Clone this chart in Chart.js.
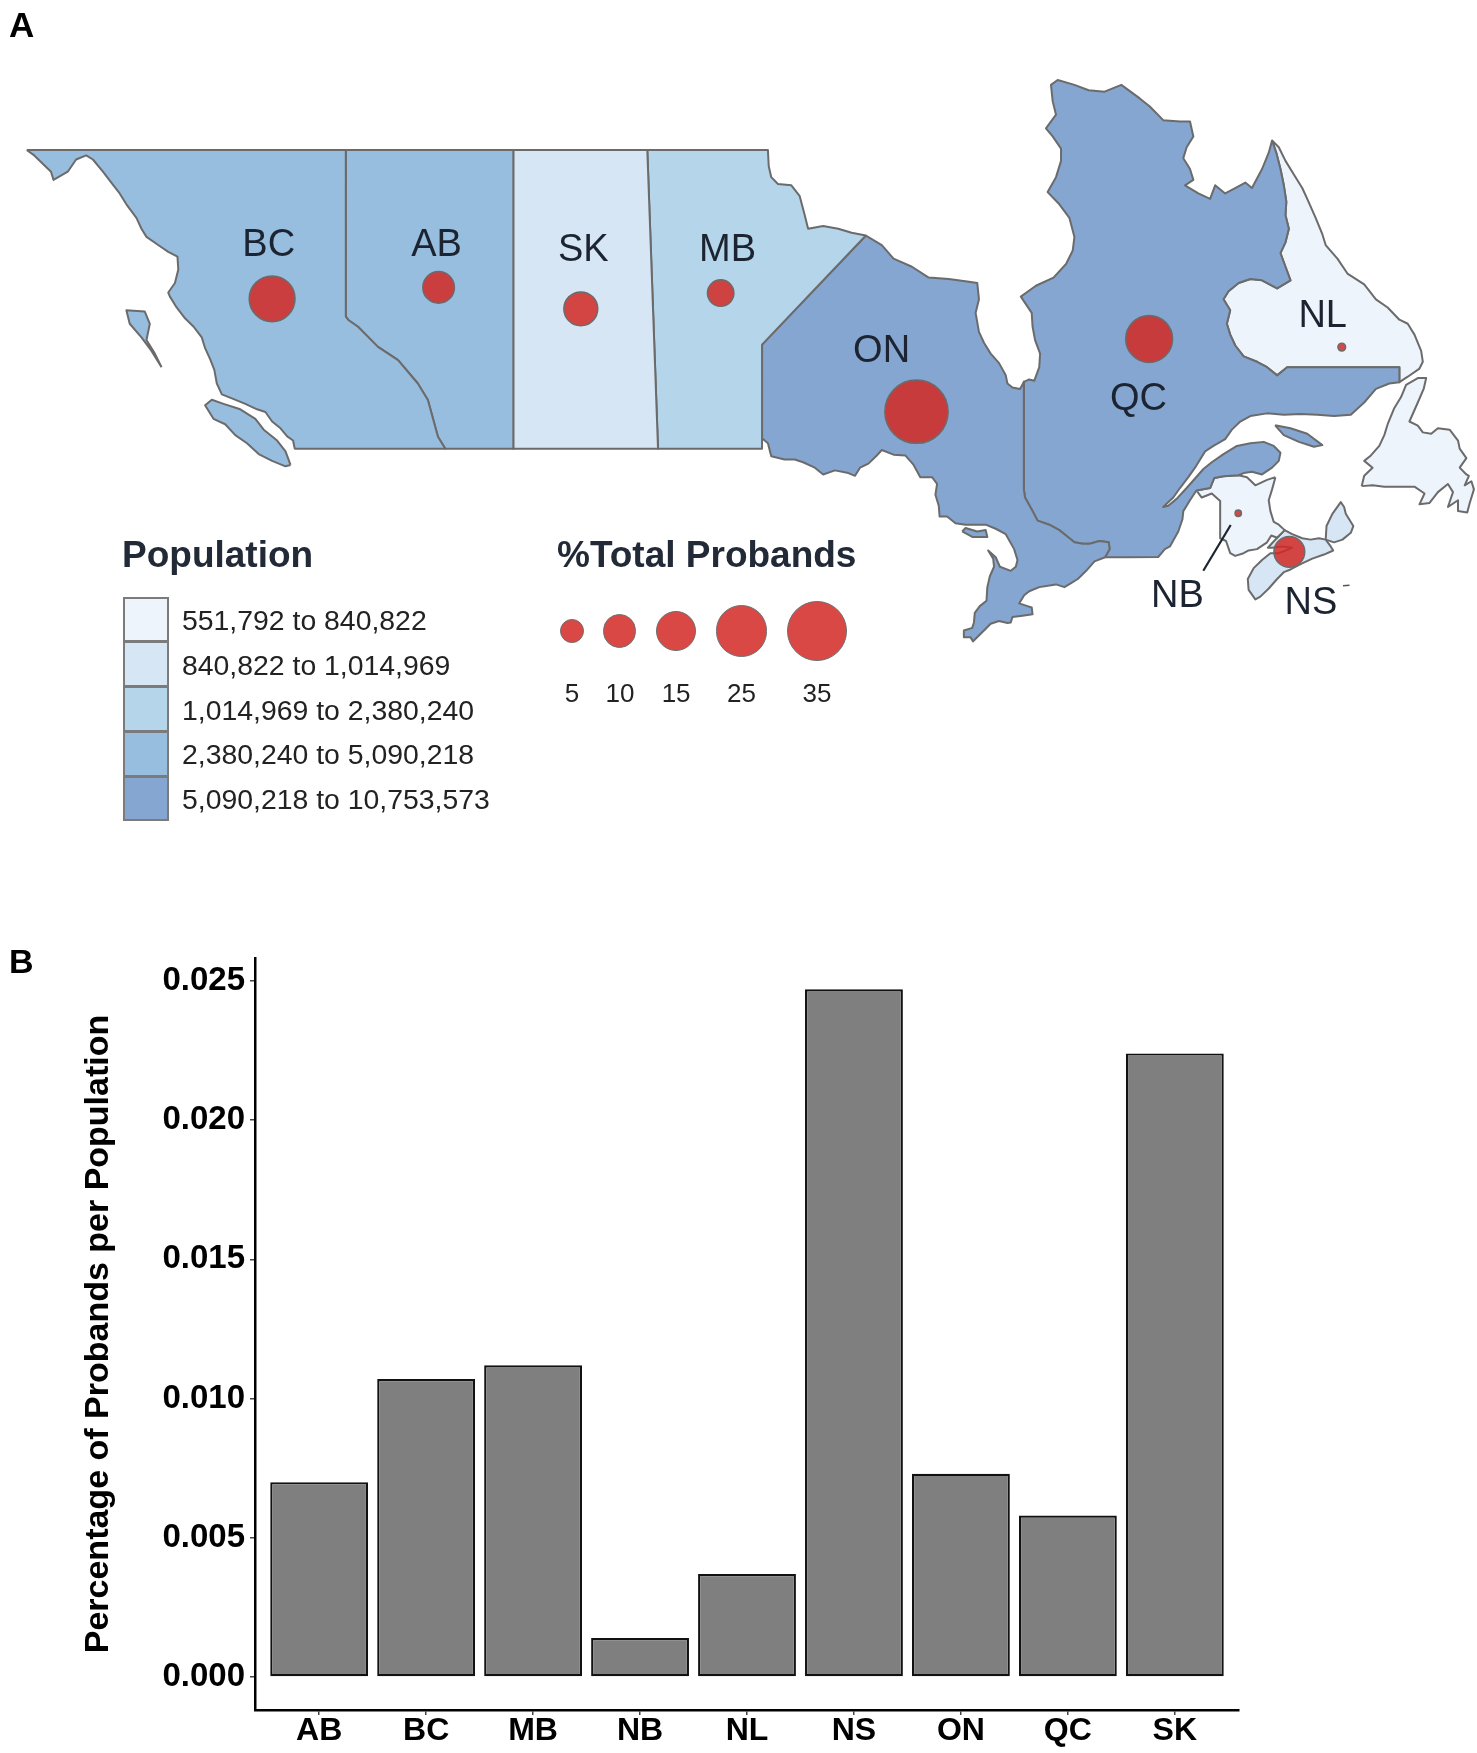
<!DOCTYPE html>
<html>
<head>
<meta charset="utf-8">
<script src="https://cdn.jsdelivr.net/npm/chart.js@4.4.1/dist/chart.umd.min.js"></script>
<style>
  html, body { margin: 0; padding: 0; background: #ffffff; }
  body { width: 1477px; height: 1753px; position: relative; overflow: hidden;
         font-family: 'Liberation Sans', Arial, Helvetica, sans-serif; }
  #mapCanvas { position: absolute; left: 0; top: 0; }
  #barCanvas { position: absolute; left: 0; top: 900px; }
  .txt { position: absolute; white-space: nowrap; line-height: 1; }
  .panel { font-weight: bold; color: #000; }
  .plabel { transform: translate(-50%, -50%); font-size: 38px; color: #1c2431; }
  .ltitle { font-weight: bold; font-size: 37px; color: #212a36; }
  .llabel { transform: translateY(-50%); font-size: 28.4px; color: #222; }
  .swatch { position: absolute; box-sizing: border-box; border: 2px solid #7b7b7b; }
  .sizeItem { position: absolute; box-sizing: border-box; border: 1.5px solid #6e6e6e;
              border-radius: 50%; background: rgba(210, 40, 35, 0.85); }
  .slabel { transform: translate(-50%, -50%); font-size: 26px; color: #222; }
  #annot { position: absolute; left: 0; top: 0; }
</style>
</head>
<body>
<canvas id="mapCanvas" width="1477" height="720"></canvas>
<canvas id="barCanvas" width="1477" height="853"></canvas>
<svg id="annot" width="1477" height="900"></svg>
<div id="overlay"></div>
<script>
// ================= PANEL B DATA =================
const categories = ['AB', 'BC', 'MB', 'NB', 'NL', 'NS', 'ON', 'QC', 'SK'];
const probandsPerPopulation = [0.0070, 0.0107, 0.0112, 0.0014, 0.0037, 0.0247, 0.0073, 0.0058, 0.0224];
const yTickValues = [0.000, 0.005, 0.010, 0.015, 0.020, 0.025];
const yAxisTitle = 'Percentage of Probands per Population';

// ================= PANEL A DATA =================
const mapProvinces = ['BC', 'AB', 'SK', 'MB', 'ON', 'QC', 'NL', 'NB', 'NS'];
const population = [4100000, 3300000, 880000, 1050000, 10753573, 6700000, 551792, 620000, 900000];
const popBreaks = [551792, 840822, 1014969, 2380240, 5090218, 10753573];
const probandShare = [21, 10, 11.5, 7, 40, 22, 0.6, 0.4, 9.5];
const centroidLon = [-124.4, -114.46, -105.97, -97.62, -85.93, -72.04, -60.54, -66.72, -63.67];
const centroidLat = [54.52, 54.94, 54.15, 54.73, 50.36, 53.04, 52.74, 46.62, 45.2];
const sizeLegendValues = [5, 10, 15, 25, 35];
const popLegendTitle = 'Population';
const sizeLegendTitle = '%Total Probands';

// Province outlines, [longitude, latitude]
const divideBCAB = [[-120, 53.86], [-119.85, 53.74], [-119.27, 53.49], [-118.08, 52.75], [-116.88, 52.26],
  [-115.7, 51.4], [-115.1, 50.79], [-114.5, 49.44], [-114.06, 49.0]];
const coastBC = [[-123.05, 49.0], [-123.15, 49.3], [-123.5, 49.45], [-123.9, 49.75], [-124.4, 50.0], [-124.8, 50.35],
  [-125.3, 50.45], [-126.0, 50.65], [-126.8, 50.85], [-127.4, 51.0], [-127.7, 51.4], [-127.85, 51.9], [-128.1, 52.3],
  [-128.4, 52.7], [-128.6, 53.1], [-129.1, 53.5], [-129.6, 53.8], [-130.1, 54.2], [-130.5, 54.6], [-130.6, 54.75],
  [-130.2, 55.1], [-130.0, 55.6], [-130.05, 56.07], [-130.6, 56.25], [-131.2, 56.5], [-131.9, 56.8], [-132.2, 57.1],
  [-132.5, 57.5], [-133.1, 58.0], [-133.5, 58.4], [-134.0, 58.8], [-134.5, 59.2], [-135.1, 59.65], [-135.5, 59.8],
  [-136.1, 59.65], [-136.6, 59.2], [-137.45, 58.9], [-137.6, 59.2], [-138.6, 59.8], [-139.05, 60.0]];
const shapeBC = [[-139.05, 60.0], [-120, 60.0], ...divideBCAB, ...coastBC];
const shapeVancouverIsland = [[-123.3, 48.4], [-123.6, 48.35], [-124.4, 48.55], [-125.2, 48.8], [-125.9, 49.2],
  [-126.6, 49.5], [-127.2, 49.9], [-127.9, 50.1], [-128.4, 50.6], [-128.0, 50.8], [-127.3, 50.65], [-126.3, 50.45],
  [-125.4, 50.1], [-124.9, 49.7], [-124.1, 49.3], [-123.6, 48.9], [-123.3, 48.4]];
const shapeHaidaGwaii = [[-131.0, 52.0], [-131.6, 52.6], [-132.2, 53.1], [-132.9, 53.6], [-133.1, 54.1],
  [-132.0, 54.05], [-131.7, 53.6], [-131.9, 53.0], [-131.4, 52.5], [-131.0, 52.0]];
const shapeAB = [[-120, 60], [-110, 60], [-110, 49], ...divideBCAB.slice().reverse(), [-120, 60]];
const shapeSK = [[-110, 60], [-102, 60], [-101.36, 49], [-110, 49], [-110, 60]];
const shapeMB = [[-102, 60], [-94.8, 60], [-94.75, 59.4], [-94.6, 59.0], [-94.2, 58.75], [-93.4, 58.7], [-92.9, 58.3],
  [-92.6, 57.6], [-92.4, 57.1], [-91.5, 57.2], [-90.6, 57.1], [-89.8, 56.95], [-88.95, 56.85], [-95.15, 52.83],
  [-95.15, 49.0], [-101.36, 49.0], [-102, 60]];
const borderONQC = [[-79.52, 51.46], [-79.52, 47.5], [-79.45, 47.2], [-79.0, 46.7], [-78.7, 46.35], [-78.0, 46.2],
  [-77.4, 46.0], [-77.0, 45.8], [-76.5, 45.55], [-76.0, 45.5], [-75.6, 45.5], [-75.0, 45.6], [-74.45, 45.55],
  [-74.4, 45.3], [-74.67, 45.0]];
const coastONNorth = [[-88.95, 56.85], [-88.0, 56.5], [-87.3, 56.0], [-86.2, 55.7], [-85.2, 55.3], [-84.0, 55.25],
  [-82.8, 55.15], [-82.3, 55.1], [-82.2, 54.5], [-82.4, 54.0], [-82.2, 53.3], [-81.9, 52.9], [-81.5, 52.5],
  [-81.0, 52.15], [-80.6, 51.7], [-80.5, 51.4], [-80.2, 51.25], [-79.75, 51.2]];
const coastONSouth = [[-75.3, 44.85], [-75.8, 44.5], [-76.3, 44.2], [-76.7, 44.05], [-77.1, 43.9], [-77.6, 44.0],
  [-78.6, 43.9], [-79.2, 43.75], [-79.5, 43.6], [-79.8, 43.3], [-79.3, 43.2], [-79.05, 43.15], [-79.0, 42.9],
  [-79.6, 42.85], [-80.2, 42.8], [-80.3, 42.6], [-80.5, 42.58], [-81.0, 42.65], [-81.5, 42.55], [-81.9, 42.3],
  [-82.4, 42.0], [-82.55, 41.9], [-82.7, 42.05], [-83.1, 42.05], [-83.1, 42.3], [-82.6, 42.4], [-82.5, 42.6],
  [-82.45, 42.95], [-82.15, 43.2], [-81.75, 43.4], [-81.7, 43.9], [-81.55, 44.3], [-81.3, 44.65], [-81.35, 44.95],
  [-81.65, 45.25], [-81.2, 45.0], [-80.95, 44.65], [-80.3, 44.5], [-80.0, 44.65], [-79.9, 44.9], [-80.1, 45.3],
  [-80.6, 45.85], [-81.2, 46.05], [-81.8, 46.2], [-82.4, 46.2], [-83.0, 46.2], [-83.6, 46.25], [-84.1, 46.5],
  [-84.55, 46.5], [-84.6, 46.9], [-84.8, 47.3], [-84.7, 47.7], [-85.0, 47.95], [-85.7, 47.95], [-86.1, 48.4],
  [-86.6, 48.75], [-87.3, 48.78], [-88.0, 48.95], [-88.3, 48.75], [-88.8, 48.45], [-89.3, 48.3], [-89.6, 48.0],
  [-90.0, 48.1], [-90.8, 48.2], [-91.5, 48.05], [-92.0, 48.3], [-92.7, 48.5], [-93.2, 48.6], [-93.8, 48.6],
  [-94.6, 48.72], [-94.8, 49.2], [-95.15, 49.38], [-95.15, 52.83], [-88.95, 56.85]];
const shapeON = [...coastONNorth, ...borderONQC, ...coastONSouth];
const shapeManitoulin = [[-83.2, 45.95], [-82.6, 45.75], [-81.7, 45.75], [-81.8, 46.0], [-82.3, 45.95],
  [-83.0, 46.08], [-83.2, 45.95]];
const coastQCWest = [[-79.52, 51.46], [-79.2, 51.55], [-78.9, 51.5], [-78.6, 52.0], [-78.55, 52.5], [-78.85, 53.0],
  [-79.0, 53.5], [-79.05, 54.0], [-79.7, 54.6], [-78.8, 55.0], [-77.75, 55.3], [-77.0, 55.8], [-76.6, 56.3],
  [-76.5, 56.8], [-76.8, 57.5], [-77.4, 58.0], [-78.1, 58.45], [-77.6, 59.0], [-77.3, 59.6], [-77.3, 60.05],
  [-77.8, 60.5], [-78.2, 60.8], [-77.6, 61.3], [-77.8, 61.8], [-77.9, 62.4], [-77.5, 62.58], [-76.5, 62.4],
  [-75.65, 62.2], [-74.7, 62.15], [-73.7, 62.4], [-72.6, 61.9], [-72.0, 61.6], [-71.2, 61.1], [-70.2, 61.05],
  [-69.6, 61.05], [-69.4, 60.5], [-69.8, 60.1], [-70.0, 59.7], [-69.6, 59.3], [-69.4, 58.9], [-69.9, 58.7],
  [-69.1, 58.4], [-68.4, 58.2], [-68.1, 58.7], [-67.5, 58.4], [-66.9, 58.6], [-66.3, 58.8], [-65.9, 58.6],
  [-65.3, 59.3], [-64.9, 59.9]];
const borderLabrador = [[-64.7, 60.35], [-64.45, 59.9], [-64.2, 59.3], [-64.0, 58.7], [-63.85, 58.1], [-63.9, 57.6],
  [-63.7, 57.1], [-63.9, 56.6], [-64.2, 56.2], [-63.9, 55.7], [-63.6, 55.2], [-64.4, 54.9], [-65.3, 55.2],
  [-66.0, 55.25], [-66.7, 55.1], [-67.3, 54.8], [-67.6, 54.5], [-67.2, 54.1], [-67.4, 53.6], [-67.2, 53.2],
  [-66.9, 52.8], [-66.4, 52.4], [-65.6, 52.2], [-65.0, 52.0], [-64.4, 51.7], [-63.8, 52.0], [-57.1, 52.0],
  [-57.1, 51.45]];
const coastQCGulf = [[-57.7, 51.4], [-58.5, 51.2], [-59.2, 50.7], [-60.0, 50.25], [-61.0, 50.2], [-62.0, 50.25],
  [-63.0, 50.28], [-64.0, 50.25], [-65.0, 50.3], [-66.0, 50.2], [-66.6, 50.0], [-67.1, 49.7], [-67.5, 49.35],
  [-68.2, 49.1], [-68.7, 48.9], [-69.3, 48.3], [-69.7, 47.95], [-70.2, 47.55], [-70.6, 47.2], [-70.95, 47.0],
  [-71.2, 46.85], [-70.9, 46.9], [-70.4, 47.15], [-69.8, 47.55], [-69.3, 47.9], [-68.8, 48.25], [-68.3, 48.5],
  [-67.6, 48.8], [-66.8, 49.1], [-66.0, 49.2], [-65.2, 49.25], [-64.6, 49.1], [-64.2, 48.85], [-64.3, 48.55],
  [-64.7, 48.3], [-65.3, 48.05], [-65.9, 48.15], [-66.4, 48.1]];
const borderQCNB = [[-66.7, 48.02], [-67.6, 47.98], [-68.15, 47.92], [-68.4, 47.55], [-69.22, 47.46]];
const borderQCUS = [[-69.6, 47.1], [-70.0, 46.7], [-70.05, 46.4], [-70.3, 45.95], [-70.8, 45.4], [-71.1, 45.3],
  [-71.5, 45.01], [-73.3, 45.0], [-74.67, 45.0]];
const shapeQC = [...coastQCWest, ...borderLabrador, ...coastQCGulf, ...borderQCNB, ...borderQCUS,
  ...borderONQC.slice().reverse()];
const shapeAnticosti = [[-64.52, 49.86], [-63.6, 49.75], [-62.6, 49.55], [-61.7, 49.13], [-62.2, 49.07],
  [-63.1, 49.25], [-64.0, 49.5], [-64.52, 49.86]];
const coastLabrador = [[-56.6, 51.65], [-55.9, 51.95], [-55.7, 52.2], [-55.8, 52.6], [-56.2, 53.2], [-56.6, 53.6],
  [-57.1, 53.75], [-57.8, 54.2], [-58.5, 54.5], [-59.2, 55.05], [-60.2, 55.45], [-60.8, 56.0], [-61.5, 56.5],
  [-61.7, 56.9], [-62.1, 57.5], [-62.6, 58.2], [-62.9, 58.6], [-63.4, 59.1], [-63.9, 59.6], [-64.3, 60.1],
  [-64.7, 60.35]];
const shapeLabrador = [...borderLabrador, ...coastLabrador];
const shapeNewfoundland = [[-59.35, 47.62], [-59.2, 48.0], [-58.7, 48.3], [-59.2, 48.55], [-58.8, 48.75],
  [-58.3, 49.1], [-58.0, 49.5], [-57.8, 49.9], [-57.4, 50.5], [-57.0, 50.9], [-56.7, 51.35], [-56.0, 51.6],
  [-55.5, 51.6], [-55.65, 51.2], [-56.0, 50.7], [-56.5, 50.0], [-56.0, 49.85], [-55.7, 49.6], [-55.2, 49.55],
  [-54.8, 49.75], [-54.1, 49.7], [-53.6, 49.3], [-53.5, 49.0], [-53.1, 48.65], [-53.5, 48.3], [-53.1, 48.05],
  [-52.95, 48.0], [-53.2, 47.65], [-52.8, 47.8], [-52.65, 47.5], [-52.9, 47.0], [-53.05, 46.65], [-53.6, 46.7],
  [-53.6, 47.1], [-54.2, 46.85], [-53.9, 47.4], [-54.2, 47.7], [-54.8, 47.4], [-55.3, 47.0], [-55.9, 46.95],
  [-55.6, 47.35], [-56.2, 47.6], [-57.0, 47.6], [-58.0, 47.6], [-58.7, 47.65], [-59.35, 47.62]];
const shapeNB = [[-64.5, 47.95], [-65.0, 47.85], [-65.7, 47.65], [-66.2, 47.95], ...borderQCNB, [-68.9, 47.2],
  [-68.3, 47.35], [-67.8, 47.07], [-67.8, 45.7], [-67.45, 45.6], [-67.2, 45.15], [-66.9, 45.05], [-66.4, 45.15],
  [-66.1, 45.25], [-65.6, 45.3], [-65.0, 45.55], [-64.75, 45.8], [-64.4, 45.72], [-63.95, 46.0], [-64.3, 46.2],
  [-64.6, 46.3], [-64.8, 46.7], [-64.9, 47.1], [-64.7, 47.5], [-64.5, 47.95]];
const shapeNS = [[-64.4, 45.72], [-63.95, 46.0], [-63.5, 45.85], [-62.9, 45.7], [-62.4, 45.65], [-61.9, 45.7],
  [-61.5, 45.65], [-61.2, 45.4], [-61.05, 45.25], [-61.6, 45.1], [-62.3, 44.95], [-63.0, 44.75], [-63.6, 44.55],
  [-64.0, 44.45], [-64.4, 44.2], [-64.9, 43.85], [-65.4, 43.55], [-65.7, 43.45], [-66.1, 43.8], [-66.15, 44.2],
  [-65.8, 44.6], [-65.3, 44.9], [-64.8, 45.15], [-64.3, 45.15], [-63.7, 45.3], [-63.5, 45.35], [-64.1, 45.4],
  [-64.7, 45.35], [-64.95, 45.35], [-64.4, 45.72]];
const shapeCapeBreton = [[-61.5, 45.65], [-61.45, 46.15], [-61.1, 46.6], [-60.6, 47.03], [-60.4, 46.85],
  [-60.3, 46.6], [-59.85, 46.15], [-60.0, 45.9], [-60.5, 45.65], [-61.0, 45.55], [-61.5, 45.65]];

const provinceShapes = {
  BC: [shapeBC, shapeVancouverIsland, shapeHaidaGwaii], AB: [shapeAB], SK: [shapeSK], MB: [shapeMB],
  ON: [shapeON, shapeManitoulin], QC: [shapeQC, shapeAnticosti], NL: [shapeLabrador, shapeNewfoundland],
  NB: [shapeNB], NS: [shapeNS, shapeCapeBreton]
};

// ================= STYLE / LAYOUT =================
const FONT = "'Liberation Sans', Arial, Helvetica, sans-serif";
const popColors = ['#eef4fb', '#d7e6f4', '#b4d5ea', '#97bedf', '#84a6d1'];
const outlineColor = '#6b6b6b';
const bubbleFill = 'rgba(210, 40, 35, 0.85)';
const bubbleRadius = v => 5 * Math.sqrt(v);
// map extent (equirectangular view)
const mapExtent = { lonMin: -140.645, lonMax: -52.466, latMin: 39.006, latMax: 65.525 };

function popClass(p) {
  for (let i = 0; i < popBreaks.length - 1; i++) if (p <= popBreaks[i + 1]) return i;
  return popBreaks.length - 2;
}

// ================= MAP (panel A) =================
const mapDatasets = [];
mapProvinces.forEach((prov, i) => {
  const color = popColors[popClass(population[i])];
  provinceShapes[prov].forEach(ring => {
    mapDatasets.push({
      type: 'line',
      data: ring.map(([x, y]) => ({ x, y })),
      fill: 'shape',
      backgroundColor: color,
      borderColor: outlineColor,
      borderWidth: 2,
      borderJoinStyle: 'round',
      pointRadius: 0,
      pointHoverRadius: 0,
      tension: 0,
      order: 2
    });
  });
});
mapDatasets.push({
  type: 'bubble',
  data: mapProvinces.map((p, i) => ({ x: centroidLon[i], y: centroidLat[i], r: bubbleRadius(probandShare[i]) })),
  backgroundColor: bubbleFill,
  borderColor: outlineColor,
  borderWidth: 1.5,
  order: 0
});

new Chart(document.getElementById('mapCanvas'), {
  type: 'scatter',
  data: { datasets: mapDatasets },
  options: {
    responsive: false, animation: false, events: [],
    layout: { autoPadding: false, padding: 0 },
    plugins: { legend: { display: false }, tooltip: { enabled: false } },
    scales: {
      x: { type: 'linear', display: false, min: mapExtent.lonMin, max: mapExtent.lonMax },
      y: { type: 'linear', display: false, min: mapExtent.latMin, max: mapExtent.latMax }
    }
  }
});

// ================= BAR CHART (panel B) =================
const barLayout = { axisLeft: 255, plotRight: 1239, plotTop: 58, xAxisHeight: 43 };
new Chart(document.getElementById('barCanvas'), {
  type: 'bar',
  data: {
    datasets: [{
      data: probandsPerPopulation.map((v, i) => ({ x: i, y: v })),
      backgroundColor: '#7f7f7f',
      borderColor: '#111111',
      borderWidth: 2.2,
      borderSkipped: false,
      barPercentage: 0.915,
      categoryPercentage: 1
    }]
  },
  options: {
    responsive: false, animation: false, events: [],
    layout: { autoPadding: false, padding: { left: 0, top: barLayout.plotTop, right: 1477 - barLayout.plotRight, bottom: 0 } },
    plugins: { legend: { display: false }, tooltip: { enabled: false } },
    scales: {
      x: {
        type: 'linear', offset: false, min: -0.6, max: categories.length - 1 + 0.6,
        afterBuildTicks: s => { s.ticks = categories.map((c, i) => ({ value: i })); },
        afterFit: s => { s.height = barLayout.xAxisHeight; },
        ticks: { callback: v => categories[v], autoSkip: false, maxRotation: 0, padding: 0.5,
                 color: '#000', font: { family: FONT, size: 32, weight: 'bold', lineHeight: 1 } },
        grid: { offset: false, drawOnChartArea: false, drawTicks: true, tickLength: 5, color: '#444', lineWidth: 1.5 },
        border: { display: true, color: '#000', width: 2.5 }
      },
      y: {
        type: 'linear', min: -0.001185, max: 0.025826,
        afterBuildTicks: s => { s.ticks = yTickValues.map(v => ({ value: v })); },
        afterFit: s => { s.width = barLayout.axisLeft; },
        ticks: { callback: v => v.toFixed(3), autoSkip: false, padding: 5,
                 color: '#000', font: { family: FONT, size: 33, weight: 'bold' } },
        grid: { drawOnChartArea: false, drawTicks: true, tickLength: 5, color: '#444', lineWidth: 1.5 },
        border: { display: true, color: '#000', width: 2.5 },
        title: { display: true, text: yAxisTitle, color: '#000', padding: { top: 78, bottom: 0 },
                 font: { family: FONT, size: 34, weight: 'bold', lineHeight: 1.2 } }
      }
    }
  }
});

// ================= TEXT / LEGENDS =================
const overlay = document.getElementById('overlay');
function addText(cls, text, left, top, extra) {
  const d = document.createElement('div');
  d.className = 'txt ' + cls;
  d.textContent = text;
  d.style.left = left + 'px';
  d.style.top = top + 'px';
  if (extra) Object.assign(d.style, extra);
  overlay.appendChild(d);
  return d;
}
// panel letters
addText('panel', 'A', 9, 6.5, { fontSize: '35px' });
addText('panel', 'B', 9, 943.5, { fontSize: '34px' });

// province labels (pixel anchors)
const labelAnchors = {
  BC: [268.7, 243.3], AB: [436.6, 242.5], SK: [583.3, 247.5], MB: [727.6, 247.5], ON: [881.6, 349.3],
  QC: [1138.5, 397.2], NL: [1322.7, 313.8], NB: [1177.5, 594], NS: [1311, 601]
};
mapProvinces.forEach(p => addText('plabel', p, labelAnchors[p][0], labelAnchors[p][1]));

// leader line for NB and small mark by NS
const svg = document.getElementById('annot');
svg.innerHTML =
  '<line x1="1203.3" y1="570.7" x2="1230.7" y2="525" stroke="#1c2431" stroke-width="2.2"/>' +
  '<line x1="1343" y1="585.8" x2="1349.5" y2="585.2" stroke="#555" stroke-width="1.5"/>';

// population legend
addText('ltitle', popLegendTitle, 122, 535.5);
const swX = 123, swY = 596.5, swW = 46, swH = 44.8;
const fmt = n => n.toLocaleString('en-US');
for (let i = 0; i < popColors.length; i++) {
  const s = document.createElement('div');
  s.className = 'swatch';
  Object.assign(s.style, { left: swX + 'px', top: (swY + i * swH) + 'px', width: swW + 'px',
    height: (swH + 1) + 'px', background: popColors[i] });
  overlay.appendChild(s);
  addText('llabel', fmt(popBreaks[i]) + ' to ' + fmt(popBreaks[i + 1]), 182, swY + i * swH + swH / 2 + 1);
}

// size legend
addText('ltitle', sizeLegendTitle, 557, 535.5);
const sizeCy = 631, sizeLabelY = 693, sizeGap = 19.5;
let cursor = 560;
sizeLegendValues.forEach(v => {
  const r = bubbleRadius(v) + 0.75;
  const cx = cursor + r;
  const c = document.createElement('div');
  c.className = 'sizeItem';
  Object.assign(c.style, { left: (cx - r) + 'px', top: (sizeCy - r) + 'px', width: (2 * r) + 'px', height: (2 * r) + 'px' });
  overlay.appendChild(c);
  addText('slabel', String(v), cx, sizeLabelY);
  cursor = cx + r + sizeGap;
});
</script>
</body>
</html>
